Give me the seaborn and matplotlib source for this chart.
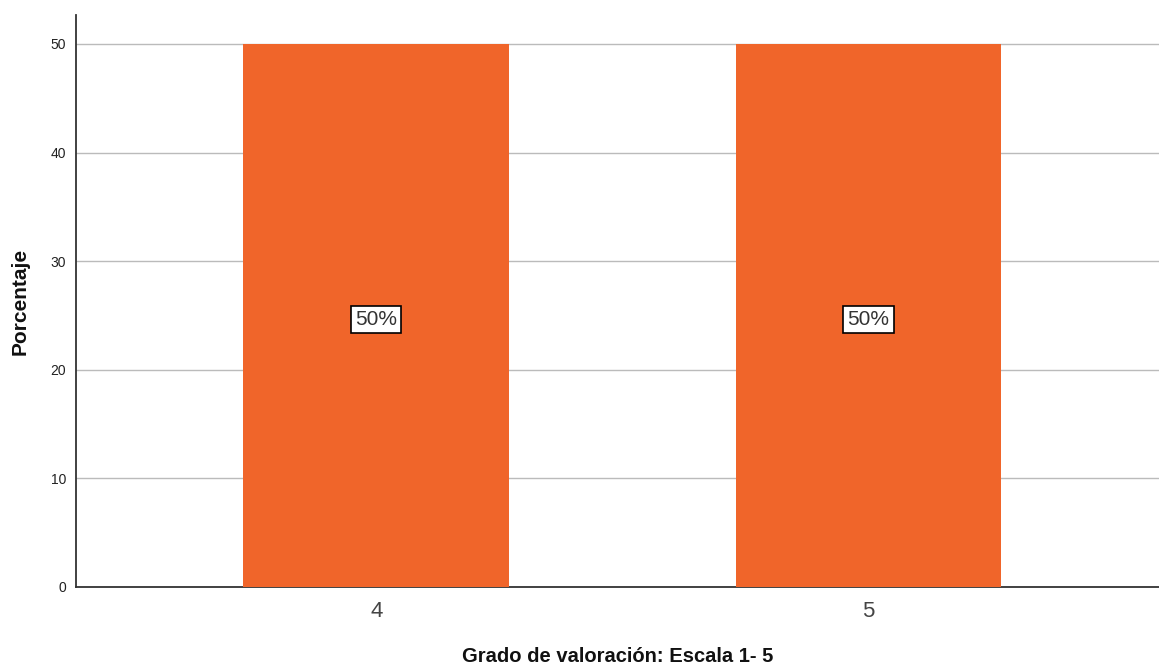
import matplotlib
matplotlib.use("Agg")
import matplotlib.pyplot as plt
import seaborn as sns
import pandas as pd

categories = ["4", "5"]
percentages = [50, 50]
bar_labels = ["50%", "50%"]
y_ticks = [0, 10, 20, 30, 40, 50]

sns.set_theme(style="white")
plt.rcParams["font.family"] = ["Liberation Sans", "DejaVu Sans"]

df = pd.DataFrame({"cat": categories, "pct": percentages})

fig = plt.figure(figsize=(11.59, 6.68), dpi=100)
ax = fig.add_axes([76 / 1159, 1 - 587 / 668, 1 - 76 / 1159, (587 - 15) / 668])

sns.barplot(data=df, x="cat", y="pct", color="#F0652A", saturation=1,
            width=0.54, linewidth=0, ax=ax, zorder=3)

ax.set_xlim(-0.61, 1.59)
ax.set_ylim(0, 52.67)
ax.set_yticks(y_ticks)
ax.set_yticklabels([str(t) for t in y_ticks], fontsize=10, color="#222222")
ax.tick_params(axis="x", labelsize=16, colors="#444444", length=0, pad=10)
ax.tick_params(axis="y", length=0, pad=7)

ax.yaxis.grid(True, color="#BBBBBB", linewidth=1.0, zorder=0)
ax.set_axisbelow(True)

for side in ["top", "right"]:
    ax.spines[side].set_visible(False)
for side in ["left", "bottom"]:
    ax.spines[side].set_color("#333333")
    ax.spines[side].set_linewidth(1.3)

ax.set_ylabel("Porcentaje", fontsize=15, fontweight="bold", labelpad=15, color="#111111")
ax.set_xlabel("Grado de valoración: Escala 1- 5", fontsize=14.5, fontweight="bold",
              labelpad=18, color="#111111")

for patch, lab in zip(ax.patches, bar_labels):
    xc = patch.get_x() + patch.get_width() / 2
    yc = patch.get_y() + patch.get_height() / 2
    ax.annotate(lab, (xc, yc), xytext=(0, -3), textcoords="offset points",
                ha="center", va="center", fontsize=15, color="#333333", zorder=5,
                bbox=dict(boxstyle="square,pad=0.2", facecolor="white",
                          edgecolor="black", linewidth=1.2))

fig.savefig("out.png", dpi=100)
